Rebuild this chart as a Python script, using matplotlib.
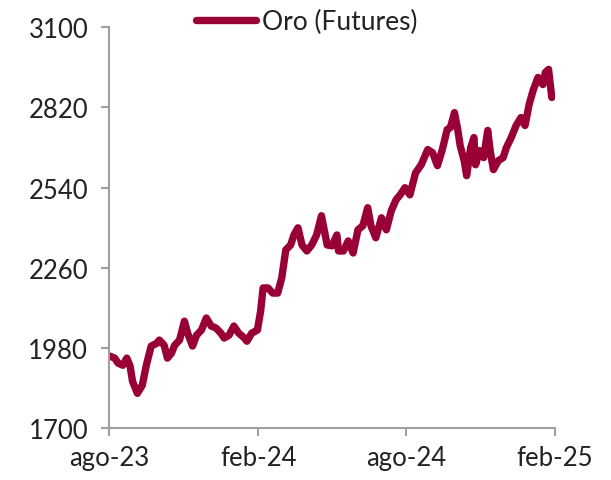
import pandas as pd
import matplotlib
matplotlib.use("Agg")
import matplotlib.pyplot as plt

plt.rcParams['font.family'] = ['Lato', 'DejaVu Sans']

# gold futures
dates = [
    "2023-08-02", "2023-08-08", "2023-08-12", "2023-08-18", "2023-08-23", "2023-08-27",
    "2023-08-30", "2023-09-05", "2023-09-11", "2023-09-16", "2023-09-22", "2023-09-29",
    "2023-10-02", "2023-10-08", "2023-10-12", "2023-10-17", "2023-10-21", "2023-10-27",
    "2023-11-02", "2023-11-06", "2023-11-12", "2023-11-17", "2023-11-23", "2023-11-29",
    "2023-12-05", "2023-12-11", "2023-12-17", "2023-12-21", "2023-12-27", "2024-01-02",
    "2024-01-08", "2024-01-15", "2024-01-18", "2024-01-24", "2024-01-31", "2024-02-04",
    "2024-02-07", "2024-02-09", "2024-02-13", "2024-02-19", "2024-02-25", "2024-03-01",
    "2024-03-06", "2024-03-12", "2024-03-16", "2024-03-21", "2024-03-26", "2024-04-01",
    "2024-04-07", "2024-04-13", "2024-04-19", "2024-04-26", "2024-05-02", "2024-05-08",
    "2024-05-10", "2024-05-16", "2024-05-22", "2024-05-28", "2024-06-03", "2024-06-09",
    "2024-06-15", "2024-06-19", "2024-06-25", "2024-07-02", "2024-07-08", "2024-07-14",
    "2024-07-20", "2024-07-25", "2024-07-31", "2024-08-06", "2024-08-13", "2024-08-20",
    "2024-08-28", "2024-09-03", "2024-09-09", "2024-09-15", "2024-09-21", "2024-09-25",
    "2024-09-30", "2024-10-04", "2024-10-07", "2024-10-12", "2024-10-15", "2024-10-20",
    "2024-10-24", "2024-10-26", "2024-10-31", "2024-11-05", "2024-11-10", "2024-11-13",
    "2024-11-17", "2024-11-23", "2024-11-29", "2024-12-03", "2024-12-09", "2024-12-15",
    "2024-12-21", "2024-12-26", "2024-12-31", "2025-01-05", "2025-01-11", "2025-01-17",
    "2025-01-20", "2025-01-24", "2025-01-28",
]
oro = [
    1952, 1945, 1928, 1920, 1945, 1917,
    1864, 1822, 1850, 1920, 1987, 1997,
    2008, 1990, 1945, 1962, 1990, 2008,
    2074, 2032, 1987, 2025, 2043, 2085,
    2057, 2050, 2032, 2015, 2025, 2057,
    2032, 2015, 2004, 2032, 2043, 2110,
    2190, 2190, 2190, 2172, 2172, 2225,
    2323, 2340, 2375, 2400, 2340, 2319,
    2340, 2375, 2442, 2340, 2337, 2375,
    2319, 2319, 2354, 2312, 2393, 2407,
    2470, 2407, 2365, 2435, 2393, 2459,
    2498, 2515, 2540, 2515, 2592, 2620,
    2673, 2662, 2617, 2673, 2743, 2750,
    2802, 2743, 2687, 2634, 2582, 2680,
    2715, 2620, 2669, 2645, 2740, 2669,
    2603, 2634, 2645, 2680, 2715, 2757,
    2785, 2757, 2830, 2880, 2925, 2900,
    2942, 2953, 2855,
]
tick_dates = ["2023-08-01", "2024-02-01", "2024-08-01", "2025-02-01"]
tick_labels = ["ago-23", "feb-24", "ago-24", "feb-25"]
y_ticks = [1700, 1980, 2260, 2540, 2820, 3100]

color = '#990036'
grey = '#a0a0a0'
text_col = '#222222'

fig = plt.figure(figsize=(6.11, 4.81), dpi=100)
ax = fig.add_axes([0.1784, 0.1075, 0.73, 0.8337])

x = pd.to_datetime(dates)
ax.plot(x, oro, color=color, lw=5.3, solid_capstyle='round', label='Oro (Futures)')

ax.set_ylim(1700, 3100)
ax.set_yticks(y_ticks)
ax.set_xlim(pd.Timestamp(tick_dates[0]), pd.Timestamp(tick_dates[-1]))
ax.set_xticks(pd.to_datetime(tick_dates))
ax.set_xticklabels(tick_labels)

for s in ['top', 'right']:
    ax.spines[s].set_visible(False)
for s in ['left', 'bottom']:
    ax.spines[s].set_color(grey)
    ax.spines[s].set_linewidth(1.5)
ax.tick_params(colors=grey, width=1.5, length=6, labelsize=18.5, labelcolor=text_col)
ax.tick_params(axis='y', pad=9)
ax.tick_params(axis='x', pad=6)

leg = fig.legend(loc='center', bbox_to_anchor=(0.5016, 1 - 22.7 / 481), frameon=False,
                 fontsize=19, handlelength=2.3, handletextpad=0.2, labelcolor=text_col)

fig.savefig('out.png', dpi=100)
